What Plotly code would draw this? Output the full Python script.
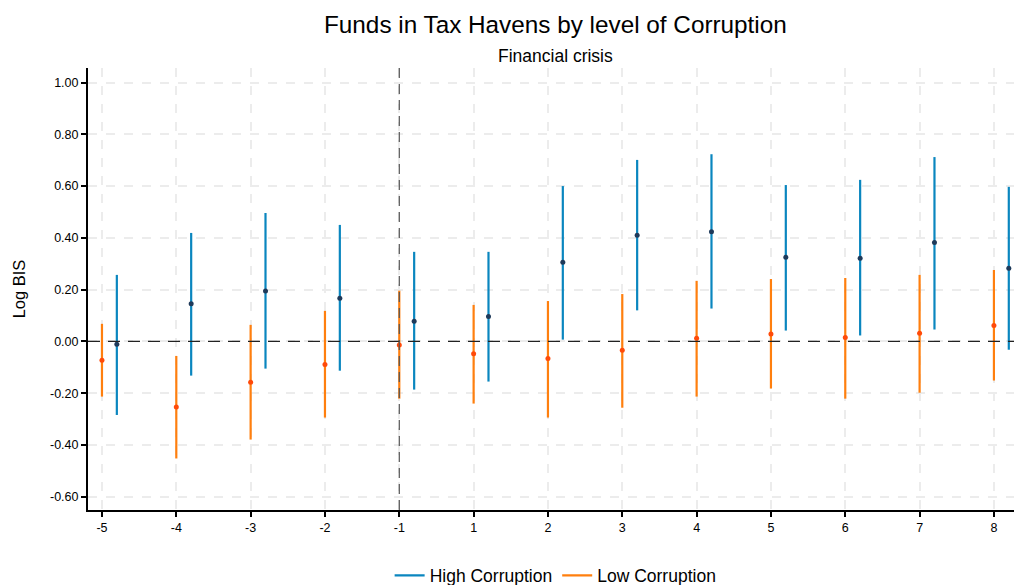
import plotly.graph_objects as go

# Event-time periods (no period 0)
periods = ["-5", "-4", "-3", "-2", "-1", "1", "2", "3", "4", "5", "6", "7", "8"]

# High corruption: point estimate and 95% CI bounds
high_est = [-0.011, 0.146, 0.195, 0.167, 0.078, 0.096, 0.306, 0.410, 0.424, 0.325, 0.321, 0.382, 0.283]
high_lo = [-0.284, -0.132, -0.105, -0.113, -0.186, -0.155, 0.007, 0.120, 0.127, 0.042, 0.023, 0.046, -0.032]
high_hi = [0.257, 0.419, 0.496, 0.450, 0.346, 0.346, 0.600, 0.701, 0.723, 0.604, 0.624, 0.712, 0.597]

# Low corruption: point estimate and 95% CI bounds
low_est = [-0.073, -0.253, -0.158, -0.089, -0.014, -0.048, -0.066, -0.034, 0.012, 0.029, 0.015, 0.032, 0.062]
low_lo = [-0.213, -0.452, -0.379, -0.294, -0.221, -0.240, -0.294, -0.256, -0.213, -0.182, -0.221, -0.198, -0.151]
low_hi = [0.068, -0.056, 0.064, 0.118, 0.196, 0.141, 0.156, 0.183, 0.234, 0.241, 0.245, 0.257, 0.276]

y_ticks = [-0.6, -0.4, -0.2, 0.0, 0.2, 0.4, 0.6, 0.8, 1.0]

HIGH_LINE, HIGH_DOT = "#0a86bf", "#1f3a5a"
LOW_LINE, LOW_DOT = "#ff7f0e", "#ff4a0a"
FONT = "Liberation Sans, Arial, sans-serif"

pos = list(range(len(periods)))
offset = 0.2


def ci_segments(xs, lo, hi):
    sx, sy = [], []
    for x, a, b in zip(xs, lo, hi):
        sx += [x, x, None]
        sy += [a, b, None]
    return sx, sy


fig = go.Figure()

hx = [p + offset for p in pos]
sx, sy = ci_segments(hx, high_lo, high_hi)
fig.add_trace(go.Scatter(x=sx, y=sy, mode="lines", name="High Corruption",
                         line=dict(color=HIGH_LINE, width=2.2), hoverinfo="skip"))
sx, sy = ci_segments(pos, low_lo, low_hi)
fig.add_trace(go.Scatter(x=sx, y=sy, mode="lines", name="Low Corruption",
                         line=dict(color=LOW_LINE, width=2.2), hoverinfo="skip"))
fig.add_trace(go.Scatter(x=hx, y=high_est, mode="markers", showlegend=False,
                         marker=dict(color=HIGH_DOT, size=5)))
fig.add_trace(go.Scatter(x=pos, y=low_est, mode="markers", showlegend=False,
                         marker=dict(color=LOW_DOT, size=5)))

# Zero reference line and crisis marker at period -1
fig.add_shape(type="line", xref="paper", x0=0, x1=1, yref="y", y0=0, y1=0,
              line=dict(color="#222222", width=1.2, dash="12px,8px"), layer="above")
fig.add_shape(type="line", xref="x", x0=periods.index("-1"), x1=periods.index("-1"),
              yref="paper", y0=0, y1=1,
              line=dict(color="#555555", width=1.2, dash="10px,6px"), layer="above")

fig.add_annotation(text="Funds in Tax Havens by level of Corruption", xref="paper", yref="paper",
                   x=0.505, y=1, yshift=44, showarrow=False, font=dict(size=24.3, color="#000000"),
                   yanchor="middle")
fig.add_annotation(text="Financial crisis", xref="paper", yref="paper",
                   x=0.505, y=1, yshift=12, showarrow=False, font=dict(size=17.5, color="#000000"),
                   yanchor="middle")

fig.update_layout(
    width=1014, height=585,
    margin=dict(l=88, r=0, t=68, b=75, autoexpand=False),
    paper_bgcolor="white", plot_bgcolor="white",
    font=dict(family=FONT, color="#000000"),
    showlegend=True,
    legend=dict(orientation="h", x=0.505, xanchor="center", y=-0.148, yanchor="middle",
                font=dict(size=17.5), itemwidth=30),
    xaxis=dict(
        range=[-0.188, 12.27], tickmode="array", tickvals=pos, ticktext=periods,
        showgrid=True, gridcolor="#ececec", gridwidth=2, griddash="dash",
        showline=True, linecolor="#000000", linewidth=2,
        ticks="outside", ticklen=5, tickwidth=2, tickcolor="#000000",
        tickfont=dict(size=12.5), zeroline=False,
    ),
    yaxis=dict(
        range=[-0.651, 1.056], tickmode="array", tickvals=y_ticks,
        ticktext=[f"{v:.2f}" for v in y_ticks],
        showgrid=True, gridcolor="#ececec", gridwidth=2, griddash="dash",
        showline=True, linecolor="#000000", linewidth=2,
        ticks="outside", ticklen=5, tickwidth=2, tickcolor="#000000",
        tickfont=dict(size=12.5), zeroline=False,
        title=dict(text="Log BIS", font=dict(size=16.5), standoff=20),
    ),
)

fig.write_html("out.html")
